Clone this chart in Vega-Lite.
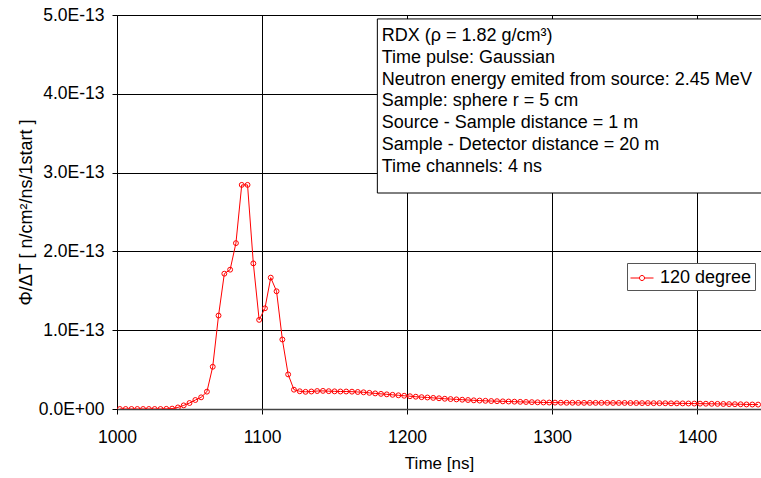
{
  "$schema": "https://vega.github.io/schema/vega-lite/v6.json",
  "width": 644,
  "height": 394,
  "autosize": {"type": "none"},
  "padding": {"left": 117, "top": 15, "right": 0, "bottom": 69},
  "background": "white",
  "config": {
    "font": "Liberation Sans",
    "view": {"stroke": null},
    "axis": {
      "gridColor": "black",
      "gridOpacity": 1,
      "gridWidth": 1,
      "tickColor": "black",
      "tickSize": 5,
      "domainColor": "black",
      "labelColor": "black",
      "titleColor": "black",
      "labelFont": "Liberation Sans",
      "titleFont": "Liberation Sans",
      "labelFontSize": 17.5,
      "titleFontSize": 17,
      "titleFontWeight": "normal"
    },
    "legend": {
      "orient": "none",
      "legendX": 510,
      "legendY": 248,
      "strokeColor": "#555",
      "fillColor": "white",
      "padding": 3,
      "labelFont": "Liberation Sans",
      "labelFontSize": 18,
      "labelColor": "black",
      "labelOffset": 6,
      "symbolType": "M-1,0L-0.22,0M0.22,0L1,0M-0.22,0A0.22,0.22,0,1,1,0.22,0A0.22,0.22,0,1,1,-0.22,0",
      "symbolSize": 529,
      "symbolStrokeWidth": 1,
      "symbolFillColor": "white",
      "cornerRadius": 0
    }
  },
  "layer": [
    {
      "data": {
        "values": [
          {"t": 1002, "v": 0.0}, {"t": 1006, "v": 0.0}, {"t": 1010, "v": 0.0}, {"t": 1014, "v": 0.0},
          {"t": 1018, "v": 0.0}, {"t": 1022, "v": 0.0}, {"t": 1026, "v": 0.0}, {"t": 1030, "v": 0.0},
          {"t": 1034, "v": 0.002e-13}, {"t": 1038, "v": 0.005e-13}, {"t": 1042, "v": 0.02e-13}, {"t": 1046, "v": 0.046e-13},
          {"t": 1050, "v": 0.076e-13}, {"t": 1054, "v": 0.114e-13}, {"t": 1058, "v": 0.148e-13}, {"t": 1062, "v": 0.22e-13},
          {"t": 1066, "v": 0.536e-13}, {"t": 1070, "v": 1.186e-13}, {"t": 1074, "v": 1.717e-13}, {"t": 1078, "v": 1.768e-13},
          {"t": 1082, "v": 2.105e-13}, {"t": 1086, "v": 2.844e-13}, {"t": 1090, "v": 2.844e-13}, {"t": 1094, "v": 1.848e-13},
          {"t": 1098, "v": 1.131e-13}, {"t": 1102, "v": 1.278e-13}, {"t": 1106, "v": 1.667e-13}, {"t": 1110, "v": 1.494e-13},
          {"t": 1114, "v": 0.882e-13}, {"t": 1118, "v": 0.439e-13}, {"t": 1122, "v": 0.245e-13}, {"t": 1126, "v": 0.225e-13},
          {"t": 1130, "v": 0.218e-13}, {"t": 1134, "v": 0.222e-13}, {"t": 1138, "v": 0.228e-13}, {"t": 1142, "v": 0.230e-13},
          {"t": 1146, "v": 0.226e-13}, {"t": 1150, "v": 0.224e-13}, {"t": 1154, "v": 0.222e-13}, {"t": 1158, "v": 0.222e-13},
          {"t": 1162, "v": 0.220e-13}, {"t": 1166, "v": 0.216e-13}, {"t": 1170, "v": 0.212e-13}, {"t": 1174, "v": 0.205e-13},
          {"t": 1178, "v": 0.198e-13}, {"t": 1182, "v": 0.192e-13}, {"t": 1186, "v": 0.186e-13}, {"t": 1190, "v": 0.180e-13},
          {"t": 1194, "v": 0.174e-13}, {"t": 1198, "v": 0.168e-13}, {"t": 1202, "v": 0.162e-13}, {"t": 1206, "v": 0.156e-13},
          {"t": 1210, "v": 0.150e-13}, {"t": 1214, "v": 0.146e-13}, {"t": 1218, "v": 0.141e-13}, {"t": 1222, "v": 0.136e-13},
          {"t": 1226, "v": 0.130e-13}, {"t": 1230, "v": 0.126e-13}, {"t": 1234, "v": 0.122e-13}, {"t": 1238, "v": 0.118e-13},
          {"t": 1242, "v": 0.114e-13}, {"t": 1246, "v": 0.110e-13}, {"t": 1250, "v": 0.107e-13}, {"t": 1254, "v": 0.104e-13},
          {"t": 1258, "v": 0.101e-13}, {"t": 1262, "v": 0.099e-13}, {"t": 1266, "v": 0.097e-13}, {"t": 1270, "v": 0.095e-13},
          {"t": 1274, "v": 0.093e-13}, {"t": 1278, "v": 0.091e-13}, {"t": 1282, "v": 0.089e-13}, {"t": 1286, "v": 0.087e-13},
          {"t": 1290, "v": 0.085e-13}, {"t": 1294, "v": 0.083e-13}, {"t": 1298, "v": 0.082e-13}, {"t": 1302, "v": 0.081e-13},
          {"t": 1306, "v": 0.080e-13}, {"t": 1310, "v": 0.079e-13}, {"t": 1314, "v": 0.079e-13}, {"t": 1318, "v": 0.078e-13},
          {"t": 1322, "v": 0.078e-13}, {"t": 1326, "v": 0.078e-13}, {"t": 1330, "v": 0.078e-13}, {"t": 1334, "v": 0.078e-13},
          {"t": 1338, "v": 0.078e-13}, {"t": 1342, "v": 0.077e-13}, {"t": 1346, "v": 0.077e-13}, {"t": 1350, "v": 0.077e-13},
          {"t": 1354, "v": 0.076e-13}, {"t": 1358, "v": 0.076e-13}, {"t": 1362, "v": 0.075e-13}, {"t": 1366, "v": 0.075e-13},
          {"t": 1370, "v": 0.074e-13}, {"t": 1374, "v": 0.074e-13}, {"t": 1378, "v": 0.073e-13}, {"t": 1382, "v": 0.072e-13},
          {"t": 1386, "v": 0.072e-13}, {"t": 1390, "v": 0.071e-13}, {"t": 1394, "v": 0.070e-13}, {"t": 1398, "v": 0.069e-13},
          {"t": 1402, "v": 0.068e-13}, {"t": 1406, "v": 0.067e-13}, {"t": 1410, "v": 0.066e-13}, {"t": 1414, "v": 0.065e-13},
          {"t": 1418, "v": 0.064e-13}, {"t": 1422, "v": 0.062e-13}, {"t": 1426, "v": 0.061e-13}, {"t": 1430, "v": 0.060e-13},
          {"t": 1434, "v": 0.058e-13}, {"t": 1438, "v": 0.057e-13}, {"t": 1442, "v": 0.056e-13}
        ]
      },
      "transform": [{"calculate": "'120 degree'", "as": "series"}],
      "mark": {
        "type": "line",
        "strokeWidth": 1,
        "clip": true,
        "point": {"filled": false, "size": 24, "strokeWidth": 1}
      },
      "encoding": {
        "x": {
          "field": "t",
          "type": "quantitative",
          "scale": {"domain": [1000, 1444], "nice": false, "zero": false},
          "axis": {
            "title": "Time [ns]",
            "values": [1000, 1100, 1200, 1300, 1400],
            "format": "d",
            "labelPadding": 14,
            "titlePadding": 10,
            "domainColor": "#444",
            "domainWidth": 1.5,
            "labelFlush": false
          }
        },
        "y": {
          "field": "v",
          "type": "quantitative",
          "scale": {"domain": [0, 5e-13], "nice": false},
          "axis": {
            "title": "Φ/ΔT [ n/cm²/ns/1start ]",
            "titleFontSize": 18,
            "values": [0, 1e-13, 2e-13, 3e-13, 4e-13, 5e-13],
            "labelExpr": "datum.value == 0 ? '0.0E+00' : upper(format(datum.value, '.1e'))",
            "labelPadding": 8,
            "titlePadding": 3,
            "labelFlush": false
          }
        },
        "color": {
          "field": "series",
          "type": "nominal",
          "scale": {"range": ["#ff0000"]},
          "legend": {"title": null}
        }
      }
    },
    {
      "data": {"values": [{"box": "info"}]},
      "mark": {"type": "rect", "fill": "white", "stroke": "black", "strokeWidth": 1, "clip": true},
      "encoding": {
        "x": {"datum": 1179.5, "type": "quantitative", "scale": {"domain": [1000, 1444], "nice": false, "zero": false}},
        "x2": {"datum": 1460},
        "y": {"datum": 4.95e-13, "type": "quantitative", "scale": {"domain": [0, 5e-13], "nice": false}},
        "y2": {"datum": 2.741e-13}
      }
    },
    {
      "data": {
        "values": [
          {"label": ["RDX (ρ = 1.82 g/cm³)", "Time pulse: Gaussian", "Neutron energy emited from source: 2.45 MeV", "Sample: sphere r = 5 cm", "Source - Sample distance = 1 m", "Sample - Detector distance = 20 m", "Time channels: 4 ns"]}
        ]
      },
      "mark": {"type": "text", "align": "left", "baseline": "alphabetic", "fontSize": 18, "lineHeight": 21.8, "color": "black", "font": "Liberation Sans"},
      "encoding": {
        "x": {"datum": 1182.5, "type": "quantitative", "scale": {"domain": [1000, 1444], "nice": false, "zero": false}},
        "y": {"datum": 4.67e-13, "type": "quantitative", "scale": {"domain": [0, 5e-13], "nice": false}},
        "text": {"field": "label"}
      }
    }
  ]
}
